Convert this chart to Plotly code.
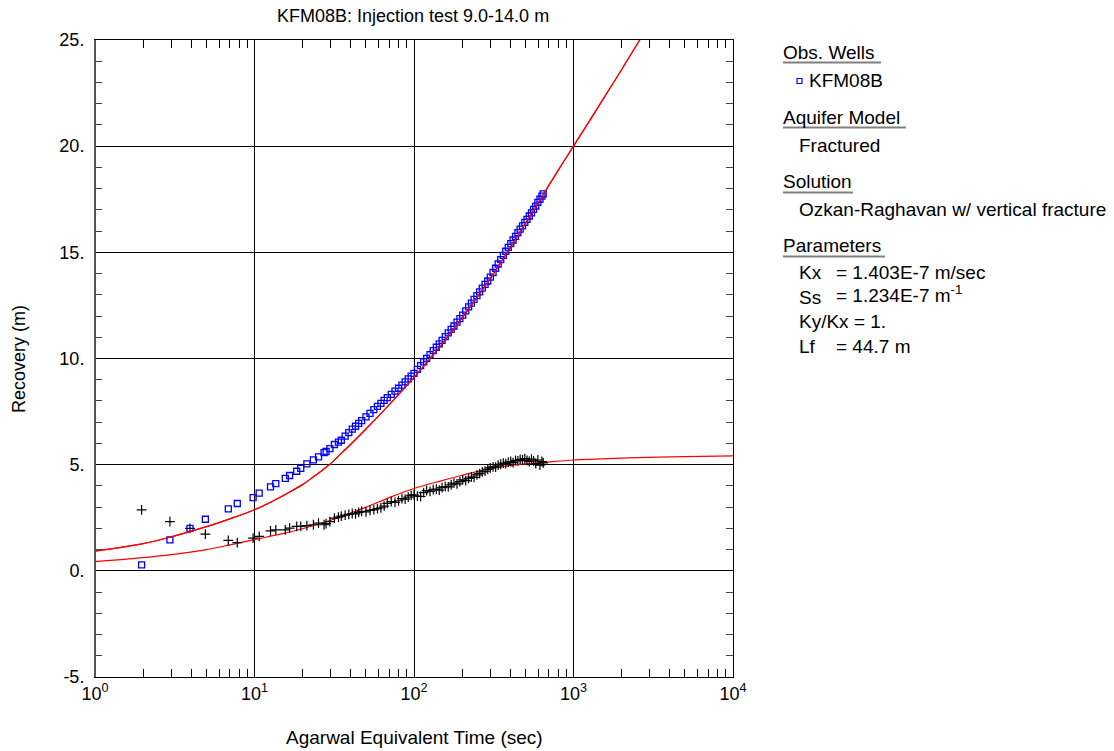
import plotly.graph_objects as go

# ---------------- data ----------------
early_t = [1.96, 2.95, 3.94, 4.92, 6.85, 7.8, 9.8, 10.7, 12.6, 13.6, 15.6, 16.6, 18.4, 19.5,
           21.3, 23.4, 25.2, 27.3, 28.1, 29.7, 31.7, 33.6]
early_rec = [0.28, 1.46, 2.0, 2.43, 2.92, 3.17, 3.45, 3.66, 3.95, 4.11, 4.35, 4.49, 4.69, 4.83,
             5.04, 5.23, 5.37, 5.57, 5.62, 5.76, 5.95, 6.06]
early_der = [2.87, 2.32, 2.0, 1.73, 1.43, 1.33, 1.54, 1.62, 1.88, 1.93, 1.93, 2.01, 2.09, 2.09,
             2.13, 2.17, 2.25, 2.17, 2.22, 2.32, 2.48, 2.53]

late_t = [35, 37, 39, 41, 43, 45, 47, 50, 53, 56, 59, 62, 65, 68, 72, 76, 80, 84, 88, 92, 96,
          100, 105, 110, 115, 120, 126, 132, 138, 144, 150, 157, 164, 171, 178, 186, 194, 202,
          211, 220, 229, 238, 248, 258, 268, 279, 290, 301, 313, 325, 337, 350, 363, 376, 390,
          404, 418, 433, 448, 463, 479, 495, 511, 528, 545, 562, 580, 598, 616, 634, 646]
late_rec = [6.15, 6.34, 6.51, 6.67, 6.81, 6.94, 7.07, 7.25, 7.42, 7.59, 7.75, 7.89, 8.03, 8.16,
            8.31, 8.46, 8.6, 8.75, 8.9, 9.04, 9.17, 9.3, 9.49, 9.66, 9.84, 10.0, 10.18, 10.37,
            10.53, 10.69, 10.85, 11.03, 11.21, 11.37, 11.53, 11.71, 11.88, 12.04, 12.24, 12.43,
            12.61, 12.78, 12.96, 13.14, 13.31, 13.49, 13.65, 13.83, 14.05, 14.25, 14.45, 14.66,
            14.86, 15.05, 15.23, 15.41, 15.58, 15.75, 15.93, 16.09, 16.25, 16.41, 16.55, 16.71,
            16.86, 17.02, 17.18, 17.35, 17.5, 17.65, 17.75]
late_der = [2.58, 2.62, 2.66, 2.70, 2.68, 2.75, 2.80, 2.78, 2.85, 2.88, 2.93, 2.97, 3.05, 3.18,
            3.26, 3.22, 3.30, 3.40, 3.38, 3.47, 3.55, 3.58, 3.52, 3.50, 3.68, 3.78, 3.74, 3.82,
            3.85, 3.80, 3.92, 3.97, 3.95, 4.05, 4.13, 4.10, 4.20, 4.28, 4.25, 4.35, 4.42, 4.40,
            4.52, 4.58, 4.66, 4.70, 4.78, 4.85, 4.90, 4.88, 4.98, 5.02, 5.07, 5.05, 5.12, 5.15,
            5.10, 5.20, 5.18, 5.25, 5.22, 5.28, 5.20, 5.15, 5.26, 5.18, 5.05, 5.22, 4.98, 5.15,
            5.08]

model_t = [1, 2, 3, 5, 7, 10, 13, 16, 20, 23, 26, 30, 35, 40, 50, 65, 80, 100, 126, 150, 200,
           250, 300, 400, 500, 646, 800, 1000, 1500, 2000, 2700]
model_rec = [0.93, 1.28, 1.6, 2.08, 2.45, 2.88, 3.28, 3.64, 4.06, 4.38, 4.68, 5.05, 5.53, 5.95,
             6.68, 7.57, 8.30, 9.11, 10.0, 10.69, 11.9, 12.9, 13.75, 15.2, 16.36, 17.72, 18.85,
             20.0, 22.1, 23.6, 25.2]

deriv_t = [1, 2, 3, 5, 7, 10, 15, 20, 30, 50, 70, 100, 150, 200, 300, 450, 650, 1000, 2000,
           4000, 10000]
deriv_model = [0.43, 0.62, 0.76, 1.0, 1.22, 1.47, 1.75, 1.98, 2.38, 3.0, 3.45, 3.88, 4.25, 4.5,
               4.82, 5.0, 5.1, 5.22, 5.31, 5.37, 5.41]

y_ticks = [-5, 0, 5, 10, 15, 20, 25]
y_ticktext = ["-5.", "0.", "5.", "10.", "15.", "20.", "25."]
x_ticks = [1, 10, 100, 1000, 10000]
x_ticktext = ["10<sup>0</sup>", "10<sup>1</sup>", "10<sup>2</sup>", "10<sup>3</sup>", "10<sup>4</sup>"]

FONT = "Liberation Sans, Arial, sans-serif"

# plot area in pixels
L, R, T, B = 95, 733, 40, 677
W, H = 1114, 751


def px(x):
    return (x - L) / (R - L)


def py(y):
    return (B - y) / (B - T)


fig = go.Figure()

red = dict(color="#ff0000", width=1.2, shape="spline", smoothing=1)
fig.add_trace(go.Scatter(x=model_t, y=model_rec, mode="lines", line=red, hoverinfo="skip"))
fig.add_trace(go.Scatter(x=deriv_t, y=deriv_model, mode="lines", line=red, hoverinfo="skip"))
fig.add_trace(go.Scatter(x=early_t + late_t, y=early_der + late_der, mode="markers",
                         marker=dict(symbol="cross-thin-open", size=7,
                                     line=dict(color="black", width=1.2), color="black")))
fig.add_trace(go.Scatter(x=early_t + late_t, y=early_rec + late_rec, mode="markers",
                         marker=dict(symbol="square-open", size=6, color="#0000ff",
                                     line=dict(color="#0000ff", width=1.3))))
# red model drawn above the data in the overlap region
fig.add_trace(go.Scatter(x=model_t, y=model_rec, mode="lines", line=red, hoverinfo="skip"))

x_minor = [m * 10 ** d for d in range(4) for m in range(2, 10)]
y_minor = [v for v in range(-5, 26) if v % 5 != 0]

fig.update_xaxes(type="log", range=[0, 4], tickvals=x_ticks, ticktext=x_ticktext,
                 showgrid=True, gridcolor="black", gridwidth=1,
                 showline=True, linecolor="black", linewidth=1, mirror="ticks",
                 ticks="inside", ticklen=7, tickcolor="black",
                 minor=dict(tickvals=x_minor, ticks="inside", ticklen=8, tickcolor="black",
                            showgrid=False),
                 tickfont=dict(family=FONT, size=18, color="black"), zeroline=False)
fig.update_yaxes(range=[-5, 25], tickvals=y_ticks, ticktext=y_ticktext,
                 showgrid=True, gridcolor="black", gridwidth=1,
                 showline=True, linecolor="black", linewidth=1, mirror="ticks",
                 ticks="inside", ticklen=7, tickcolor="black",
                 minor=dict(tickvals=y_minor, ticks="inside", ticklen=7, tickcolor="#444444",
                            showgrid=False),
                 tickfont=dict(family=FONT, size=18, color="black"), zeroline=False,
                 ticklabelstandoff=6)

annotations = [
    dict(text="KFM08B: Injection test 9.0-14.0 m", x=px(413), y=py(16),
         xanchor="center", yanchor="middle", font=dict(size=18)),
    dict(text="Agarwal Equivalent Time (sec)", x=px(414), y=py(737),
         xanchor="center", yanchor="middle", font=dict(size=19)),
    dict(text="Recovery (m)", x=px(19), y=py(359), textangle=-90,
         xanchor="center", yanchor="middle", font=dict(size=18)),
    dict(text="Obs. Wells", x=px(781), y=py(52), xanchor="left", yanchor="middle"),
    dict(text="KFM08B", x=px(807), y=py(81), xanchor="left", yanchor="middle"),
    dict(text="Aquifer Model", x=px(781), y=py(117), xanchor="left", yanchor="middle"),
    dict(text="Fractured", x=px(797), y=py(145), xanchor="left", yanchor="middle"),
    dict(text="Solution", x=px(781), y=py(181), xanchor="left", yanchor="middle"),
    dict(text="Ozkan-Raghavan w/ vertical fracture", x=px(797), y=py(210),
         xanchor="left", yanchor="middle"),
    dict(text="Parameters", x=px(781), y=py(245), xanchor="left", yanchor="middle"),
    dict(text="Kx", x=px(797), y=py(272), xanchor="left", yanchor="middle"),
    dict(text="= 1.403E-7 m/sec", x=px(834), y=py(272), xanchor="left", yanchor="middle"),
    dict(text="Ss", x=px(797), y=py(297), xanchor="left", yanchor="middle"),
    dict(text="= 1.234E-7 m<sup>-1</sup>", x=px(834), y=py(294), xanchor="left", yanchor="middle"),
    dict(text="Ky/Kx = 1.", x=px(797), y=py(321), xanchor="left", yanchor="middle"),
    dict(text="Lf", x=px(797), y=py(346), xanchor="left", yanchor="middle"),
    dict(text="= 44.7 m", x=px(834), y=py(346), xanchor="left", yanchor="middle"),
]
for a in annotations:
    a.update(xref="paper", yref="paper", showarrow=False)
    f = dict(family=FONT, size=19, color="black")
    f.update(a.get("font", {}))
    a["font"] = f

shapes = []
for (x0, x1, yy) in [(783, 881, 62.5), (783, 906, 127.5), (783, 853, 192.5), (783, 885, 256.5)]:
    shapes.append(dict(type="line", xref="paper", yref="paper", x0=px(x0), x1=px(x1),
                       y0=py(yy), y1=py(yy), line=dict(color="#808080", width=2)))
shapes.append(dict(type="rect", xref="paper", yref="paper", x0=px(797), x1=px(802),
                   y0=py(83.5), y1=py(78.5), line=dict(color="#0000ff", width=1.2)))
# slightly heavier left frame
shapes.append(dict(type="line", xref="paper", yref="paper", x0=0, x1=0, y0=0, y1=1,
                   line=dict(color="#555555", width=2)))

fig.update_layout(width=W, height=H, margin=dict(l=L, r=W - R, t=T, b=H - B),
                  paper_bgcolor="white", plot_bgcolor="white", showlegend=False,
                  font=dict(family=FONT, color="black"),
                  annotations=annotations, shapes=shapes)

fig.write_html("out.html")
